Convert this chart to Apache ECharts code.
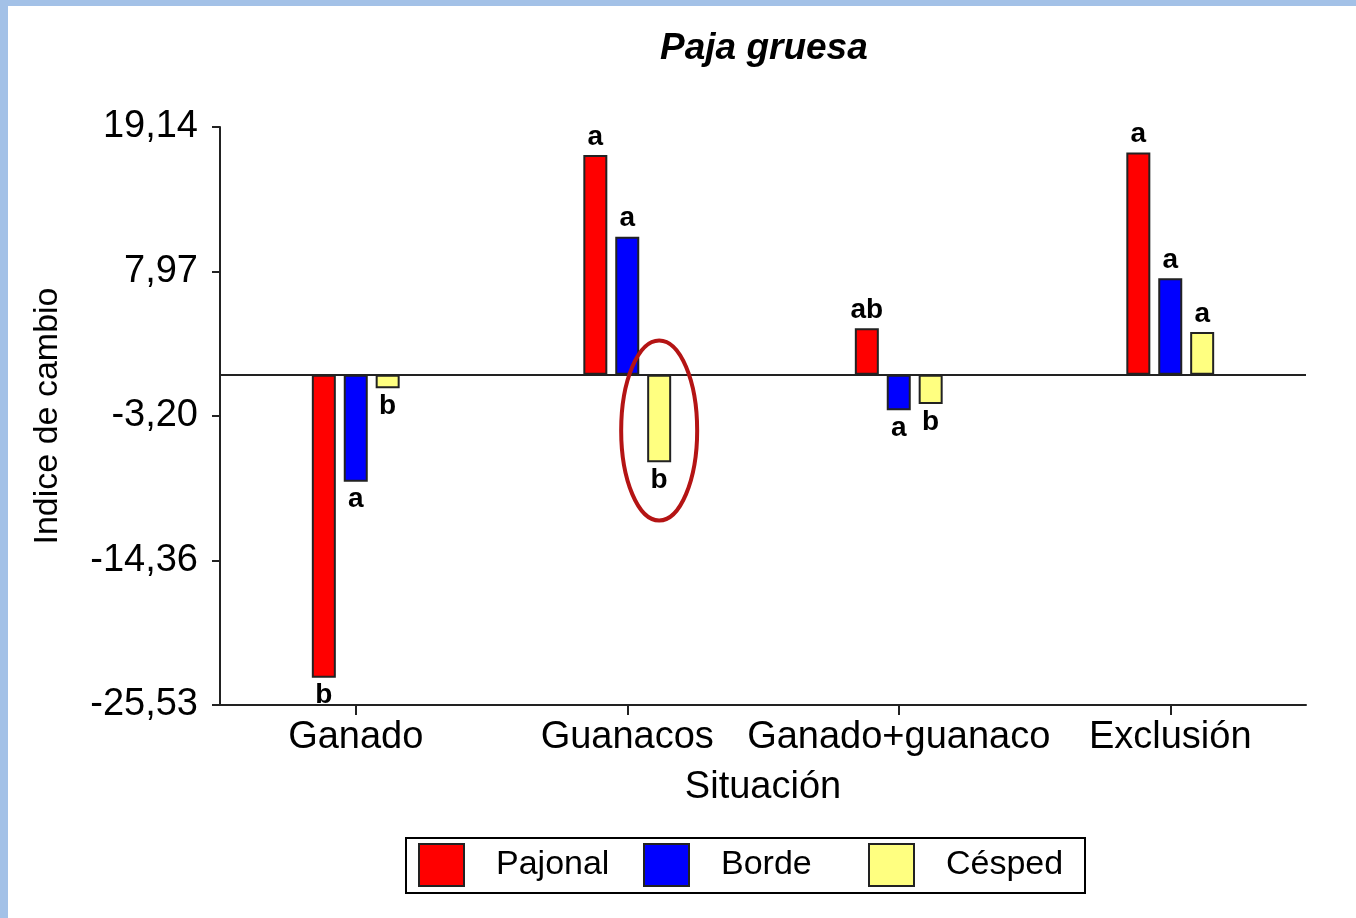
<!DOCTYPE html>
<html>
<head>
<meta charset="utf-8">
<script src="https://cdn.jsdelivr.net/npm/echarts@6/dist/echarts.min.js"></script>
<style>
  html, body { margin: 0; padding: 0; background: #fff; }
  #chart { width: 1356px; height: 918px; }
</style>
</head>
<body>
<div id="chart"></div>
<script>
const categories = ['Ganado', 'Guanacos', 'Ganado+guanaco', 'Exclusión'];
const seriesNames = ['Pajonal', 'Borde', 'Césped'];
const pajonal = [-23.42, 16.98, 3.59, 17.16];
const borde = [-8.27, 10.66, -2.75, 7.45];
const cesped = [-1.05, -6.77, -2.26, 3.30];
const pajonalLetters = ['b', 'a', 'ab', 'a'];
const bordeLetters = ['a', 'a', 'a', 'a'];
const cespedLetters = ['b', 'b', 'b', 'a'];
const tickLabels = ['-25,53', '-14,36', '-3,20', '7,97', '19,14'];
const yMin = -25.53;
const yMax = 19.14;

const FONT = '"Liberation Sans", Arial, sans-serif';
const BAR_W = 24;
const colors = ['#ff0000', '#0000ff', '#ffff80'];
const step = (yMax - yMin) / (tickLabels.length - 1);

const chart = echarts.init(document.getElementById('chart'), null, {renderer: 'canvas'});

function makeSeries(name, values, letters, color, withZero) {
    const s = {
        name: name,
        type: 'bar',
        barWidth: BAR_W,
        barGap: '33%',
        itemStyle: {color: color, borderColor: '#222', borderWidth: 2},
        data: values.map(function (v, i) {
            return {
                value: v,
                label: {position: v >= 0 ? 'top' : 'bottom', formatter: letters[i]}
            };
        }),
        label: {
            show: true,
            distance: 4,
            fontFamily: FONT,
            fontWeight: 'bold',
            fontSize: 28,
            color: '#000'
        }
    };
    if (withZero) {
        s.markLine = {
            silent: true,
            symbol: 'none',
            label: {show: false},
            lineStyle: {color: '#222', width: 2, type: 'solid'},
            data: [{yAxis: 0}]
        };
    }
    return s;
}

// one legend per entry so every slot has the same width, as in the original
const legendLefts = [413, 638, 863];
const legends = seriesNames.map(function (name, i) {
    return {
        data: [name],
        left: legendLefts[i],
        top: 838,
        padding: [5, 5, 5, 5],
        itemWidth: 45,
        itemHeight: 42,
        icon: 'rect',
        itemStyle: {borderColor: '#222', borderWidth: 2},
        textStyle: {fontFamily: FONT, fontSize: 34, color: '#000', padding: [0, 0, 0, 27]}
    };
});

const option = {
    animation: false,
    backgroundColor: '#fff',
    title: {
        text: 'Paja gruesa',
        left: 655,
        top: 25,
        textStyle: {fontFamily: FONT, fontSize: 37, fontWeight: 'bold', fontStyle: 'italic', color: '#000'}
    },
    legend: legends,
    grid: {left: 220, right: 50, top: 127, bottom: 213, containLabel: false},
    xAxis: {
        type: 'category',
        data: categories,
        name: 'Situación',
        nameLocation: 'middle',
        nameGap: 64,
        nameTextStyle: {fontFamily: FONT, fontSize: 38, color: '#000'},
        axisLine: {onZero: false, lineStyle: {color: '#222', width: 2}},
        axisTick: {show: true, alignWithLabel: true, length: 10, lineStyle: {color: '#222', width: 2}},
        axisLabel: {fontFamily: FONT, fontSize: 38, color: '#000', margin: 14, interval: 0}
    },
    yAxis: {
        type: 'value',
        min: yMin,
        max: yMax,
        interval: step,
        name: 'Indice de cambio',
        nameLocation: 'middle',
        nameGap: 155,
        nameTextStyle: {fontFamily: FONT, fontSize: 34, color: '#000'},
        splitLine: {show: false},
        axisLine: {show: true, lineStyle: {color: '#222', width: 2}},
        axisTick: {show: true, length: 8, lineStyle: {color: '#222', width: 2}},
        axisLabel: {
            fontFamily: FONT,
            fontSize: 38,
            color: '#000',
            margin: 22,
            formatter: function (v) {
                const idx = Math.round((v - yMin) / step);
                return tickLabels[idx] !== undefined ? tickLabels[idx] : '';
            }
        }
    },
    graphic: [
        {type: 'rect', left: 0, top: 0, shape: {width: 1356, height: 6}, style: {fill: '#a3c1e7'}, silent: true},
        {type: 'rect', left: 0, top: 0, shape: {width: 8, height: 918}, style: {fill: '#a3c1e7'}, silent: true},
        {type: 'rect', silent: true, shape: {x: 406, y: 838, width: 679, height: 55},
            style: {fill: 'none', stroke: '#000', lineWidth: 2}}
    ],
    series: [
        makeSeries(seriesNames[0], pajonal, pajonalLetters, colors[0], true),
        makeSeries(seriesNames[1], borde, bordeLetters, colors[1], false),
        makeSeries(seriesNames[2], cesped, cespedLetters, colors[2], false)
    ]
};

chart.setOption(option);

// red ellipse highlighting the Césped bar for Guanacos
const gi = categories.indexOf('Guanacos');
const base = chart.convertToPixel({seriesIndex: 0}, [gi, 0]);
const low = chart.convertToPixel({seriesIndex: 0}, [gi, cesped[gi]]);
const barGapPx = BAR_W * 0.33;
const cx = base[0] + BAR_W + barGapPx;
const cy = (base[1] + low[1]) / 2 + 12;
chart.setOption({
    graphic: option.graphic.concat([{
        type: 'ellipse',
        silent: true,
        z: 100,
        shape: {cx: cx, cy: cy, rx: 38, ry: 90},
        style: {fill: 'none', stroke: '#b41414', lineWidth: 4}
    }])
});
</script>
</body>
</html>
